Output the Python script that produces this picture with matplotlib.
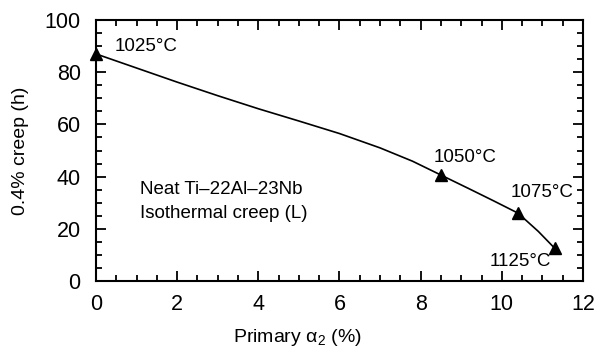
import numpy as np
import matplotlib
matplotlib.use("Agg")
import matplotlib.pyplot as plt
from matplotlib.ticker import MultipleLocator

plt.rcParams['font.family'] = ['Liberation Sans', 'DejaVu Sans']
plt.rcParams['mathtext.fontset'] = 'custom'
plt.rcParams['mathtext.rm'] = 'Liberation Sans'

curve_x = [0.0, 1.0, 2.0, 3.0, 4.0, 5.0, 6.0, 7.0, 7.8, 8.5, 9.2, 9.8, 10.4, 10.9, 11.3]
curve_y = [87.0, 81.6, 76.2, 71.0, 66.0, 61.3, 56.5, 51.0, 45.9, 40.6, 35.3, 30.7, 26.0, 19.0, 12.6]

# measured points
point_x = [0.0, 8.5, 10.4, 11.3]
point_y = [87.0, 40.6, 26.0, 12.6]
point_labels = ['1025°C', '1050°C', '1075°C', '1125°C']
label_pos = [(0.47, 90.0), (8.33, 47.5), (10.22, 34.0), (9.7, 7.3)]

fig = plt.figure(figsize=(5.97, 3.49), dpi=100)
ax = fig.add_axes([0.1608, 0.1948, 0.8157, 0.7479])

ax.plot(curve_x, curve_y, color='black', lw=1.2, zorder=2)
ax.plot(point_x, point_y, linestyle='none', marker='^', ms=8,
        color='black', clip_on=False, zorder=3)

for lab, (tx, ty) in zip(point_labels, label_pos):
    ax.text(tx, ty, lab, fontsize=13.5, ha='left', va='center')

ax.text(1.08, 34.9, 'Neat Ti–22Al–23Nb', fontsize=13.5, ha='left', va='center')
ax.text(1.08, 26.0, 'Isothermal creep (L)', fontsize=13.5, ha='left', va='center')

ax.set_xlim(0, 12)
ax.set_ylim(0, 100)
ax.xaxis.set_major_locator(MultipleLocator(2))
ax.xaxis.set_minor_locator(MultipleLocator(0.5))
ax.yaxis.set_major_locator(MultipleLocator(20))
ax.yaxis.set_minor_locator(MultipleLocator(5))

ax.tick_params(which='both', direction='in', top=True, right=True, width=1.3)
ax.tick_params(which='major', length=7.5, labelsize=15.5)
ax.tick_params(axis='x', which='major', pad=9)
ax.tick_params(axis='y', which='major', pad=11)
ax.tick_params(which='minor', length=4.5)
for sp in ax.spines.values():
    sp.set_linewidth(1.5)

ax.set_xlabel('Primary α$_2$ (%)', fontsize=14)
ax.set_ylabel('0.4% creep (h)', fontsize=14)
ax.xaxis.set_label_coords(0.413, -0.175)
ax.yaxis.set_label_coords(-0.138, 0.5)

fig.savefig('out.png', dpi=100)
